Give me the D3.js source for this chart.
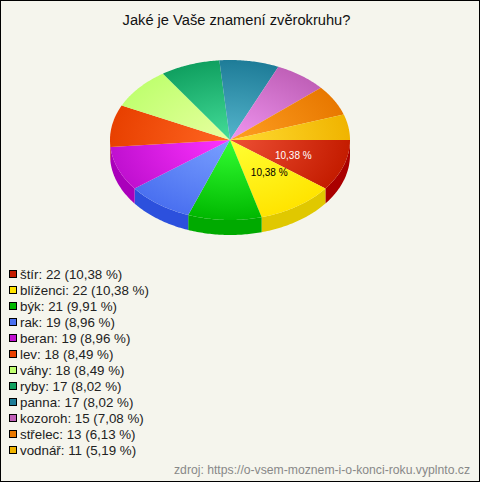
<!DOCTYPE html>
<html><head><meta charset="utf-8">
<script src="https://cdn.jsdelivr.net/npm/d3@7"></script>
<style>html,body{margin:0;padding:0;background:#f5f5ed}svg{display:block}text{font-family:"Liberation Sans",Arial,sans-serif}</style>
</head><body><div id="c"></div>
<script>
const title = "Jaké je Vaše znamení zvěrokruhu?";
const source = "zdroj: https://o-vsem-moznem-i-o-konci-roku.vyplnto.cz";
const categories = ["štír","blíženci","býk","rak","beran","lev","váhy","ryby","panna","kozoroh","střelec","vodnář"];
const values = [22,22,21,19,19,18,18,17,17,15,13,11];
const percents = ["10,38","10,38","9,91","8,96","8,96","8,49","8,49","8,02","8,02","7,08","6,13","5,19"];
const edgeColors = ["#c41c00","#ffe400","#00b800","#4a70f0","#c010d0","#e84000","#c0ff70","#10a060","#1e7c98","#c060b8","#e87800","#f0b400"];
const centerColors = ["#ee5035","#ffff33","#33ff33","#7aa0ff","#ff33ff","#ff6622","#e8ffa0","#44dd99","#55b5cc","#f095f0","#ffa022","#ffdd33"];
const sideColors = ["#aa0000","#e0c800","#00aa00","#2c50dd","#aa00bb","#cc3000","#a0e050","#008844","#106080","#a04898","#cc6000","#d09800"];
const pieLabels = ["10,38 %","10,38 %"];
const labelColors = ["#fff","#000"];

const W=480,H=482,cx=230,cy=140,rx=120,ry=80,depth=15;
const svg=d3.select("#c").append("svg").attr("width",W).attr("height",H);
svg.append("rect").attr("x",.5).attr("y",.5).attr("width",W-1).attr("height",H-1).attr("fill","#f5f5ed").attr("stroke","#000");
svg.append("text").attr("x",236.5).attr("y",25).attr("text-anchor","middle").attr("font-size",14.67).attr("fill","#111").text(title);

const arcs=d3.pie().sort(null).startAngle(0).endAngle(2*Math.PI)(values);
const px=a=>cx+rx*Math.cos(a), py=a=>cy+ry*Math.sin(a);
const defs=svg.append("defs");
categories.forEach((c,i)=>{
  const g=defs.append("radialGradient").attr("id","g"+i).attr("gradientUnits","userSpaceOnUse")
    .attr("cx",0).attr("cy",0).attr("r",1).attr("gradientTransform",`translate(${cx},${cy}) scale(${rx},${ry})`);
  g.append("stop").attr("offset",0).attr("stop-color",centerColors[i]);
  g.append("stop").attr("offset",1).attr("stop-color",edgeColors[i]);
});
function wedgePath(d){
  const pts=d3.range(0,41).map(k=>{const a=d.startAngle+(d.endAngle-d.startAngle)*k/40;return [px(a),py(a)];});
  return d3.line()([[cx,cy],...pts])+"Z";
}
function sidePath(d){
  const a0=Math.max(d.startAngle,0),a1=Math.min(d.endAngle,Math.PI);
  if(a1<=a0) return null;
  const top=d3.range(0,41).map(k=>{const a=a0+(a1-a0)*k/40;return [px(a),py(a)];});
  const bot=top.map(p=>[p[0],p[1]+depth]).reverse();
  return d3.line()([...top,...bot])+"Z";
}
svg.append("g").selectAll("path").data(arcs.filter(d=>sidePath(d))).join("path")
  .attr("d",sidePath).attr("fill",d=>sideColors[d.index]);
svg.append("g").selectAll("path").data(arcs).join("path")
  .attr("d",wedgePath).attr("fill",d=>`url(#g${d.index})`);
svg.append("g").selectAll("text").data(arcs.slice(0,pieLabels.length)).join("text")
  .attr("x",d=>cx+rx*0.57*Math.cos((d.startAngle+d.endAngle)/2)+(d.index===0?-1.5:1))
  .attr("y",d=>cy+ry*0.5*Math.sin((d.startAngle+d.endAngle)/2)+(d.index===0?6:3))
  .attr("text-anchor","middle").attr("font-size",10)
  .attr("fill",d=>labelColors[d.index]).text(d=>pieLabels[d.index]);

const leg=svg.append("g").selectAll("g").data(categories).join("g")
  .attr("transform",(d,i)=>`translate(0,${d3.scaleLinear().domain([0,1]).range([274,290])(i)})`);
leg.append("rect").attr("x",9.5).attr("y",-3.5).attr("width",7).attr("height",7)
  .attr("fill",(d,i)=>edgeColors[i]).attr("stroke","#000");
leg.append("text").attr("x",20).attr("y",5).attr("font-size",13.33).attr("fill","#222")
  .text((d,i)=>`${d}: ${values[i]} (${percents[i]} %)`);
svg.append("text").attr("x",470).attr("y",474).attr("text-anchor","end").attr("font-size",12.2).attr("fill","#888").text(source);
</script></body></html>
